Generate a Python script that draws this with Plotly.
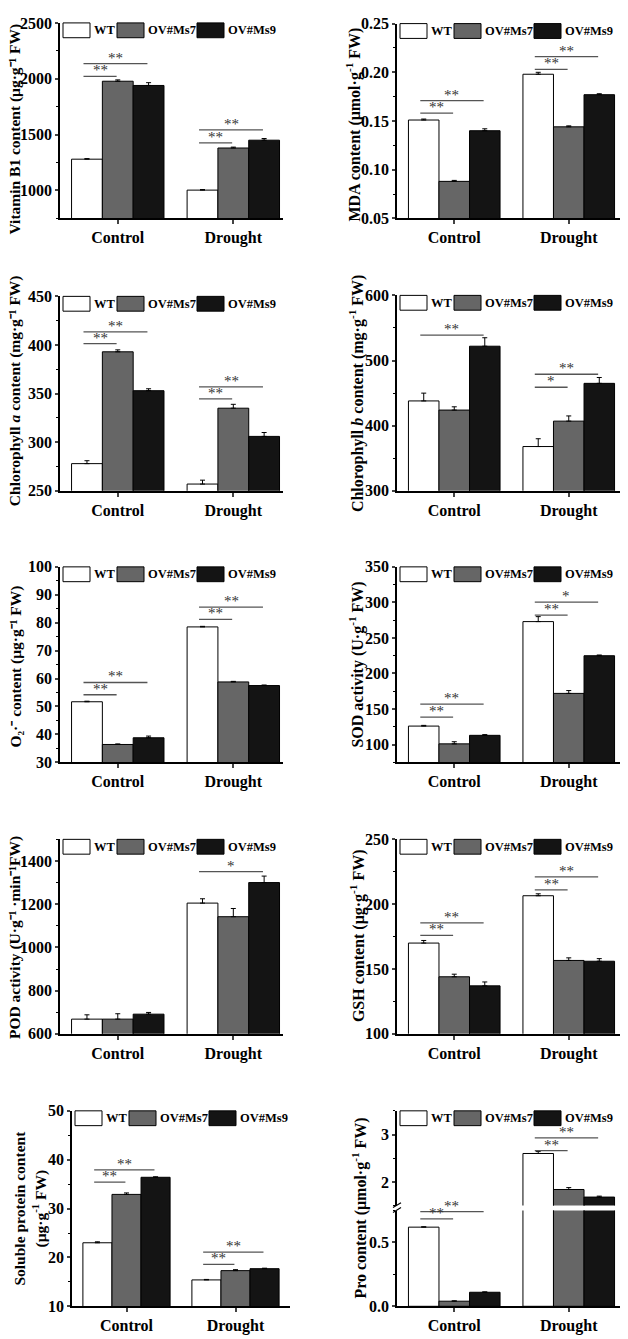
import plotly.graph_objects as go

W, H = 628, 1339
OFF = 8                      # page body margin: the figure starts 8 px in
FW, FH = W - OFF, H - OFF
GROUPS = ['Control', 'Drought']
LINES = ['WT', 'OV#Ms7', 'OV#Ms9']
COLORS = ['#ffffff', '#666666', '#141414']

# values: rows = WT, OV#Ms7, OV#Ms9 ; cols = Control, Drought
vb1_mean = [[1280, 1003], [1978, 1380], [1940, 1450]]
vb1_err = [[5, 5], [12, 8], [25, 15]]
vb1_sig = [(0, 1, 2021, '**'), (0, 2, 2136, '**'), (1, 1, 1426, '**'), (1, 2, 1542, '**')]

mda_mean = [[0.151, 0.198], [0.088, 0.144], [0.140, 0.177]]
mda_err = [[0.001, 0.002], [0.001, 0.001], [0.002, 0.001]]
mda_sig = [(0, 1, 0.158, '**'), (0, 2, 0.171, '**'), (1, 1, 0.203, '**'), (1, 2, 0.216, '**')]

chla_mean = [[278, 257], [393, 335], [353, 306]]
chla_err = [[3, 4], [2, 4], [2, 4]]
chla_sig = [(0, 1, 401.5, '**'), (0, 2, 413.5, '**'), (1, 1, 344.5, '**'), (1, 2, 357, '**')]

chlb_mean = [[438, 368], [424, 407], [522, 465]]
chlb_err = [[12, 12], [5, 8], [13, 9]]
chlb_sig = [(0, 2, 539, '**'), (1, 1, 459, '*'), (1, 2, 479, '**')]

o2_mean = [[51.7, 78.5], [36.4, 58.8], [38.8, 57.5]]
o2_err = [[0.2, 0.2], [0.2, 0.2], [0.6, 0.2]]
o2_sig = [(0, 1, 54.2, '**'), (0, 2, 58.6, '**'), (1, 1, 81.2, '**'), (1, 2, 85.6, '**')]

sod_mean = [[126, 273], [101, 172], [113, 225]]
sod_err = [[1, 7], [3, 4], [1, 1]]
sod_sig = [(0, 1, 138.5, '**'), (0, 2, 157, '**'), (1, 1, 282, '**'), (1, 2, 300.5, '*')]

pod_mean = [[668, 1205], [668, 1142], [691, 1300]]
pod_err = [[20, 20], [25, 38], [8, 30]]
pod_sig = [(1, 2, 1351, '*')]

gsh_mean = [[170, 206.5], [144, 156.6], [137, 156]]
gsh_err = [[2, 1.5], [2, 2], [3, 2]]
gsh_sig = [(0, 1, 176, '**'), (0, 2, 185.6, '**'), (1, 1, 211, '**'), (1, 2, 221, '**')]

prot_mean = [[23.0, 15.4], [32.9, 17.3], [36.4, 17.7]]
prot_err = [[0.2, 0.1], [0.3, 0.2], [0.1, 0.1]]
prot_sig = [(0, 1, 35.4, '**'), (0, 2, 37.9, '**'), (1, 1, 18.6, '**'), (1, 2, 21.1, '**')]

pro_mean = [[0.62, 2.60], [0.04, 1.84], [0.11, 1.68]]
pro_err = [[0.003, 0.04], [0.003, 0.04], [0.003, 0.02]]
pro_sig_low = [(0, 1, 0.685, '**'), (0, 2, 0.742, '**')]
pro_sig_high = [(1, 1, 2.66, '**'), (1, 2, 2.93, '**')]

FONT = 'Liberation Serif, Times New Roman, serif'
BW = 0.8 / 3


def px(x):
    return (x - OFF) / FW


def py(y):
    return 1 - (y - OFF) / FH


# page-pixel boxes (left, right, top, bottom), axis ranges, ticks, title position
panels = [
    dict(mean=vb1_mean, err=vb1_err, sig=vb1_sig, box=(60, 283, 15, 213), xr=[-0.5, 1.43],
         yr=[750, 2500], tick0=1000, dtick=500, fmt='', tx=15, ty=123,
         title='Vitamin B1 content (μg·g⁻¹ FW)'),
    dict(mean=mda_mean, err=mda_err, sig=mda_sig, box=(397, 626, 15.7, 213), xr=[-0.5, 1.5],
         yr=[0.05, 0.25], tick0=0.05, dtick=0.05, fmt='.2f', tx=354, ty=118,
         title='MDA content (μmol·g<sup>-1</sup> FW)'),
    dict(mean=chla_mean, err=chla_err, sig=chla_sig, box=(60, 283, 292, 489), xr=[-0.5, 1.43],
         yr=[250, 450], tick0=250, dtick=50, fmt='', tx=15, ty=388,
         title='Chlorophyll <i>a</i> content (mg·g⁻¹ FW)'),
    dict(mean=chlb_mean, err=chlb_err, sig=chlb_sig, box=(397, 626, 291, 489), xr=[-0.5, 1.5],
         yr=[300, 600], tick0=300, dtick=100, fmt='', tx=356, ty=390,
         title='Chlorophyll <i>b</i> content (mg·g<sup>-1</sup> FW)'),
    dict(mean=o2_mean, err=o2_err, sig=o2_sig, box=(60, 283, 566, 764), xr=[-0.5, 1.43],
         yr=[30, 100], tick0=30, dtick=10, fmt='', tx=16, ty=667,
         title='O₂·⁻ content (μg·g⁻¹ FW)'),
    dict(mean=sod_mean, err=sod_err, sig=sod_sig, box=(397, 626, 566, 764), xr=[-0.5, 1.5],
         yr=[75, 350], tick0=100, dtick=50, fmt='', tx=357, ty=665,
         title='SOD activity (U·g<sup>-1</sup> FW)'),
    dict(mean=pod_mean, err=pod_err, sig=pod_sig, box=(60, 283, 842, 1039), xr=[-0.5, 1.43],
         yr=[600, 1500], tick0=600, dtick=200, fmt='', tx=15, ty=942,
         title='POD activity (U·g⁻¹ ·min⁻¹FW)'),
    dict(mean=gsh_mean, err=gsh_err, sig=gsh_sig, box=(397, 626, 842, 1039), xr=[-0.5, 1.5],
         yr=[100, 250], tick0=100, dtick=50, fmt='', tx=357, ty=940,
         title='GSH content (μg·g<sup>-1</sup> FW)'),
    dict(mean=prot_mean, err=prot_err, sig=prot_sig, box=(72, 290, 1117, 1315), xr=[-0.5, 1.5],
         yr=[10, 50], tick0=10, dtick=10, fmt='', tx=30, ty=1216,
         title='Soluble protein content<br>(μg·g<sup>-1</sup> FW)'),
    dict(mean=pro_mean, err=pro_err, sig=pro_sig_low, box=(397, 626, 1218, 1315), xr=[-0.5, 1.5],
         yr=[0, 0.75], tick0=0, dtick=0.5, fmt='.1f', tx=None, ty=None, title=None),
    dict(mean=pro_mean, err=pro_err, sig=pro_sig_high, box=(397, 626, 1117, 1213), xr=[-0.5, 1.5],
         yr=[1.5, 3.5], tick0=2, dtick=1, fmt='', tx=360, ty=1216, upper=True,
         title='Pro content (μmol·g<sup>-1</sup> FW)'),
]

fig = go.Figure()
shapes, annos = [], []
layout = dict(width=FW, height=FH, margin=dict(l=0, r=0, t=0, b=0, pad=0), showlegend=False,
              plot_bgcolor='white', paper_bgcolor='white', barmode='group',
              bargap=0.2, bargroupgap=0, font=dict(family=FONT, color='black'))

for n, p in enumerate(panels, start=1):
    s = '' if n == 1 else str(n)
    xa, ya = 'x' + s, 'y' + s
    l, r, t, b = p['box']
    upper = p.get('upper', False)
    for k, name in enumerate(LINES):
        fig.add_trace(go.Bar(
            x=[0, 1], y=p['mean'][k], name=name, xaxis=xa, yaxis=ya,
            marker=dict(color=COLORS[k], line=dict(color='black', width=1)),
            error_y=dict(type='data', symmetric=False, array=p['err'][k], arrayminus=[0, 0],
                         color='black', thickness=1, width=2.5)))
    layout['xaxis' + s] = dict(
        domain=[px(l), px(r)], range=p['xr'], anchor=ya, tickvals=[0, 1], ticktext=GROUPS,
        showline=not upper, linecolor='black', linewidth=1.5, ticks='' if upper else 'outside',
        ticklen=4, tickwidth=1.5, showticklabels=not upper,
        tickfont=dict(size=16, weight='bold'), showgrid=False, zeroline=False)
    layout['yaxis' + s] = dict(
        domain=[py(b), py(t)], range=p['yr'], anchor=xa, tick0=p['tick0'],
        dtick=p['dtick'], tickformat=p['fmt'], showline=True, linecolor='black',
        linewidth=1.5, ticks='outside', ticklen=3, tickwidth=1.5,
        minor=dict(dtick=p['dtick'] / 2, ticks='outside', ticklen=2, tickwidth=1,
                   tickcolor='black', showgrid=False),
        tickfont=dict(size=16, weight='bold'), showgrid=False, zeroline=False)

    # significance lines
    for g, tgt, yv, lab in p['sig']:
        x0 = g - BW - 0.03
        x1 = g + (tgt - 1) * BW - 0.01
        shapes.append(dict(type='line', xref=xa, yref=ya, x0=x0, x1=x1, y0=yv, y1=yv,
                           line=dict(color='#555555', width=1.3)))
        annos.append(dict(xref=xa, yref=ya, x=(x0 + x1) / 2, y=yv, text=lab, showarrow=False,
                          yanchor='middle', yshift=6, font=dict(size=15, color='#333333')))

    if p['title']:
        annos.append(dict(xref='paper', yref='paper', x=px(p['tx']), y=py(p['ty']),
                          text=p['title'], showarrow=False, textangle=-90, xanchor='center',
                          yanchor='middle',
                          font=dict(size=15.5 if l < 100 else 16, weight='bold')))
    if n == 10:
        continue
    # legend boxes at the top of every panel
    for k, name in enumerate(LINES):
        bx = l + [3, 57, 137][k]
        shapes.append(dict(type='rect', xref='paper', yref='paper', x0=px(bx), x1=px(bx + 27),
                           y0=py(t + 15), y1=py(t), fillcolor=COLORS[k],
                           line=dict(color='black', width=1)))
        annos.append(dict(xref='paper', yref='paper', x=px(bx + 29), y=py(t + 7.5),
                          text=name, showarrow=False, xanchor='left', yanchor='middle',
                          font=dict(size=12.5, weight='bold')))

# axis break marks on the Pro panel
for dy in (0, 5):
    shapes.append(dict(type='line', xref='paper', yref='paper', x0=px(393), x1=px(401),
                       y0=py(1215 + dy), y1=py(1210 + dy),
                       line=dict(color='black', width=1.2)))

layout['shapes'] = shapes
layout['annotations'] = annos
fig.update_layout(**layout)
fig.write_html("out.html")
